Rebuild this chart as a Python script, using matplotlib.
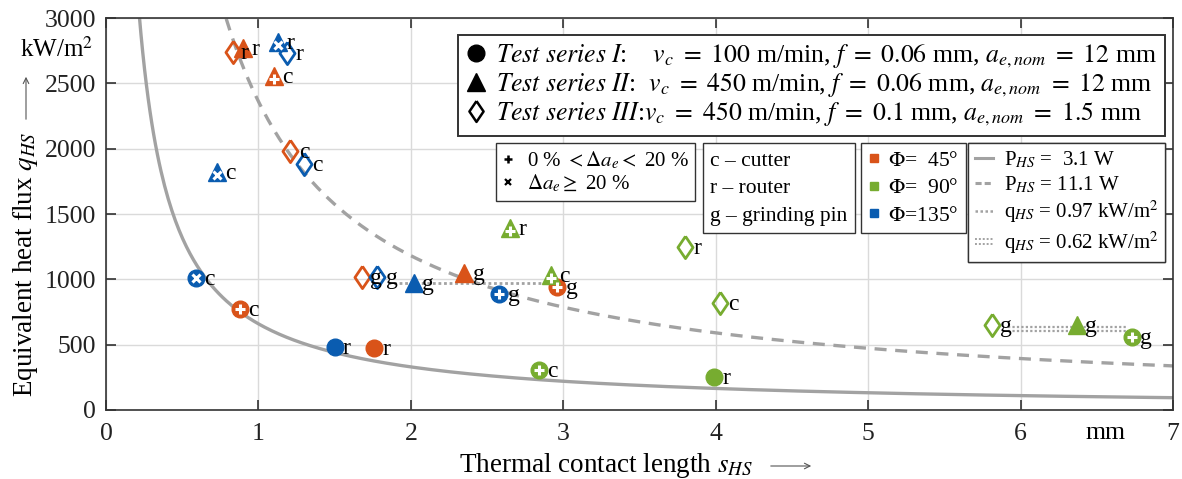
import numpy as np
import matplotlib
matplotlib.use("Agg")
import matplotlib.pyplot as plt
from matplotlib.lines import Line2D
from matplotlib.legend_handler import HandlerBase
import matplotlib.transforms as mtrans

plt.rcParams['font.family'] = ['Liberation Serif', 'DejaVu Serif']
plt.rcParams['mathtext.fontset'] = 'stix'

# ---------------- data ----------------
colors = {'45': '#D95319', '90': '#77AC30', '135': '#0A5CB0'}

# Test series I (circles)
s1_x = [0.59, 0.88, 1.50, 1.76, 2.58, 2.96, 2.84, 3.99, 6.73]
s1_y = [1010, 773, 482, 474, 887, 941, 306, 252, 560]
s1_phi = ['135', '45', '135', '45', '135', '45', '90', '90', '90']
s1_mod = ['x', '+', '', '', '+', '+', '+', '', '+']
s1_tool = ['c', 'c', 'r', 'r', 'g', 'g', 'c', 'r', 'g']

# Test series II (triangles)
s2_x = [0.90, 1.10, 1.13, 0.73, 2.02, 2.35, 2.92, 2.65, 6.37]
s2_y = [2770, 2555, 2815, 1821, 971, 1048, 1033, 1392, 650]
s2_phi = ['45', '45', '135', '135', '135', '45', '90', '90', '90']
s2_mod = ['', '+', 'x', 'x', '', '', '+', '+', '']
s2_tool = ['r', 'c', 'r', 'c', 'g', 'g', 'c', 'r', 'g']

# Test series III (hollow diamonds)
s3_x = [0.83, 1.19, 1.21, 1.30, 1.68, 1.78, 3.80, 4.03, 5.81]
s3_y = [2740, 2730, 1982, 1882, 1018, 1018, 1247, 818, 650]
s3_phi = ['45', '135', '45', '135', '45', '135', '90', '90', '90']
s3_tool = ['r', 'r', 'c', 'c', 'g', 'g', 'r', 'c', 'g']

# model curves: constant power P_HS over contact width
P_solid = 3.1     # W
P_dashed = 11.1   # W
contact_width = 4.7  # mm

# constant heat flux lines (grinding pin)
q097_x = [1.85, 2.93]
q097_y = 970
q062_x = [5.92, 6.70]
q062_y = 622

x_ticks = [0, 1, 2, 3, 4, 5, 6, 7]
y_ticks = [0, 500, 1000, 1500, 2000, 2500, 3000]

# diamond marker shape (taller than wide)
DIAMOND = [(0, 1), (0.68, 0), (0, -1), (-0.68, 0), (0, 1)]

# ---------------- figure ----------------
W, H = 1182, 479
fig = plt.figure(figsize=(W / 100, H / 100), dpi=100)
ax = fig.add_axes([106 / W, 1 - 410 / H, (1173 - 106) / W, 392 / H])
ax.set_xlim(0, 7)
ax.set_ylim(0, 3000)
ax.set_xticks(x_ticks)
ax.set_yticks(y_ticks)
ax.tick_params(direction='in', length=7, width=1.1, top=True, right=True,
               labelsize=18.5, colors='#222222')
ax.tick_params(axis='x', pad=9)
ax.tick_params(axis='y', pad=7)
ax.grid(True, color='#DADADA', lw=1.0)
ax.set_axisbelow(True)
for sp in ax.spines.values():
    sp.set_linewidth(1.2)
    sp.set_color('#333333')

grey = '#A2A2A2'
s = np.linspace(0.05, 7.2, 600)
ax.plot(s, P_solid * 1000 / (s * contact_width), color=grey, lw=2.4, zorder=2)
ax.plot(s, P_dashed * 1000 / (s * contact_width), color=grey, lw=2.4,
        ls=(0, (3.6, 2.6)), zorder=2)
ax.plot(q097_x, [q097_y] * 2, color=grey, lw=2.0, ls=(0, (1, 1)), zorder=2)
for dy in (-1.6, 1.6):
    tr = mtrans.offset_copy(ax.transData, fig=fig, x=0, y=dy, units='points')
    ax.plot(q062_x, [q062_y] * 2, color=grey, lw=1.6, ls=(0, (1, 1)),
            transform=tr, zorder=2)


def label(x, y, t):
    ax.annotate(t, (x, y), xytext=(6, -1), textcoords='offset points',
                ha='left', va='center', fontsize=17, zorder=6)


def overlay(x, y, mod):
    if mod == '+':
        ax.plot(x, y, marker='+', color='white', ms=7.5, mew=2.2, zorder=5)
    elif mod == 'x':
        ax.plot(x, y, marker='x', color='white', ms=6, mew=2.2, zorder=5)


for x, y, p, m, t in zip(s1_x, s1_y, s1_phi, s1_mod, s1_tool):
    ax.plot(x, y, marker='o', color=colors[p], ms=12, ls='none', zorder=4)
    overlay(x, y, m)
    label(x, y, t)

for x, y, p, m, t in zip(s2_x, s2_y, s2_phi, s2_mod, s2_tool):
    ax.plot(x, y, marker='^', color=colors[p], ms=13, ls='none', zorder=4)
    overlay(x, y - 25, m)
    label(x, y, t)

for x, y, p, t in zip(s3_x, s3_y, s3_phi, s3_tool):
    ax.plot(x, y, marker=DIAMOND, mfc='none', mec=colors[p], mew=2.0, ms=16,
            ls='none', zorder=4)
    label(x, y, t)

# axis texts
fig.text(1105 / W, 1 - 433 / H, 'mm', ha='center', va='center', fontsize=18.5)
fig.text(57 / W, 1 - 49 / H, 'kW/m$^2$', ha='center', va='center', fontsize=18)
fig.text(26 / W, 1 - 264 / H, 'Equivalent heat flux $q_{HS}$', rotation=90,
         ha='center', va='center', fontsize=19.5)
fig.text(606 / W, 1 - 466 / H, 'Thermal contact length $s_{HS}$',
         ha='center', va='center', fontsize=19.5)
ax.annotate('', xy=(26 / W, 1 - 74 / H), xytext=(26 / W, 1 - 122 / H),
            xycoords='figure fraction',
            arrowprops=dict(arrowstyle='->', color='#555555', lw=0.8))
ax.annotate('', xy=(814 / W, 1 - 466 / H), xytext=(768 / W, 1 - 466 / H),
            xycoords='figure fraction',
            arrowprops=dict(arrowstyle='->', color='#555555', lw=0.8))

# ---------------- legends ----------------
frame_kw = dict(fancybox=False, framealpha=1, edgecolor='#333333',
                borderaxespad=0, bbox_transform=ax.transAxes, loc='upper right')


def ax_frac(px, py):
    return ((px - 106) / 1067, (410 - py) / 392)


h1 = [Line2D([], [], marker='o', color='k', ls='none', ms=12),
      Line2D([], [], marker='^', color='k', ls='none', ms=13),
      Line2D([], [], marker=DIAMOND, mfc='none', mec='k', mew=1.8, ls='none', ms=15)]
l1 = [r"$\mathit{Test\ series\ I}$:    $v_c\ =\ 100$ m/min, $f\ =\ 0.06$ mm, $a_{e,nom}\ =\ 12$ mm",
      r"$\mathit{Test\ series\ II}$:  $v_c\ =\ 450$ m/min, $f\ =\ 0.06$ mm, $a_{e,nom}\ =\ 12$ mm",
      r"$\mathit{Test\ series\ III}$:$v_c\ =\ 450$ m/min, $f\ =\ 0.1$ mm, $a_{e,nom}\ =\ 1.5$ mm"]
leg1 = ax.legend(h1, l1, bbox_to_anchor=ax_frac(1165, 35), fontsize=18.5,
                 handlelength=0.8, handletextpad=0.4, labelspacing=0.05,
                 borderpad=0.3, **frame_kw)
leg1.get_frame().set_linewidth(1.4)
ax.add_artist(leg1)

h2 = [Line2D([], [], marker='+', color='k', ls='none', ms=6, mew=1.8),
      Line2D([], [], marker='x', color='k', ls='none', ms=4.5, mew=1.6)]
l2 = [r"0 % $< \Delta a_e <$ 20 %", r"$\Delta a_e \geq$ 20 %"]
leg2 = ax.legend(h2, l2, bbox_to_anchor=ax_frac(695, 143), fontsize=15,
                 handlelength=0.6, handletextpad=0.6, labelspacing=0.1,
                 borderpad=0.3, **frame_kw)
ax.add_artist(leg2)

h3 = [Line2D([], [], ls='none') for _ in range(3)]
l3 = ['c – cutter', 'r – router', 'g – grinding pin']
leg3 = ax.legend(h3, l3, bbox_to_anchor=ax_frac(855, 143), fontsize=15.5,
                 handlelength=0, handletextpad=0, labelspacing=0.35,
                 borderpad=0.35, **frame_kw)
ax.add_artist(leg3)

h4 = [Line2D([], [], marker='s', color=colors[k], ls='none', ms=6)
      for k in ('45', '90', '135')]
l4 = [r'$\Phi$=  45°', r'$\Phi$=  90°', r'$\Phi$=135°']
leg4 = ax.legend(h4, l4, bbox_to_anchor=ax_frac(966, 143), fontsize=15.5,
                 handlelength=0.5, handletextpad=0.4, labelspacing=0.35,
                 borderpad=0.35, **frame_kw)
ax.add_artist(leg4)


class DoubleDot:
    pass


class HandlerDoubleDot(HandlerBase):
    def create_artists(self, legend, orig_handle, xdescent, ydescent, width,
                       height, fontsize, trans):
        y = height / 2 - ydescent
        arts = []
        for dy in (-1.6, 1.6):
            ln = Line2D([-xdescent, width - xdescent], [y + dy, y + dy],
                        color=grey, lw=1.4, ls=(0, (1, 1)))
            ln.set_transform(trans)
            arts.append(ln)
        return arts


h5 = [Line2D([], [], color=grey, lw=2.2),
      Line2D([], [], color=grey, lw=2.2, ls=(0, (2, 1))),
      Line2D([], [], color=grey, lw=1.8, ls=(0, (1, 1))),
      DoubleDot()]
l5 = [r'P$_{HS}$ =  3.1 W', r'P$_{HS}$ = 11.1 W',
      r'q$_{HS}$ = 0.97 kW/m$^2$', r'q$_{HS}$ = 0.62 kW/m$^2$']
leg5 = ax.legend(h5, l5, bbox_to_anchor=ax_frac(1165, 143), fontsize=15,
                 handlelength=0.9, handletextpad=0.5, labelspacing=0.2,
                 borderpad=0.3, handler_map={DoubleDot: HandlerDoubleDot()},
                 **frame_kw)
ax.add_artist(leg5)

fig.savefig('out.png', dpi=100)
